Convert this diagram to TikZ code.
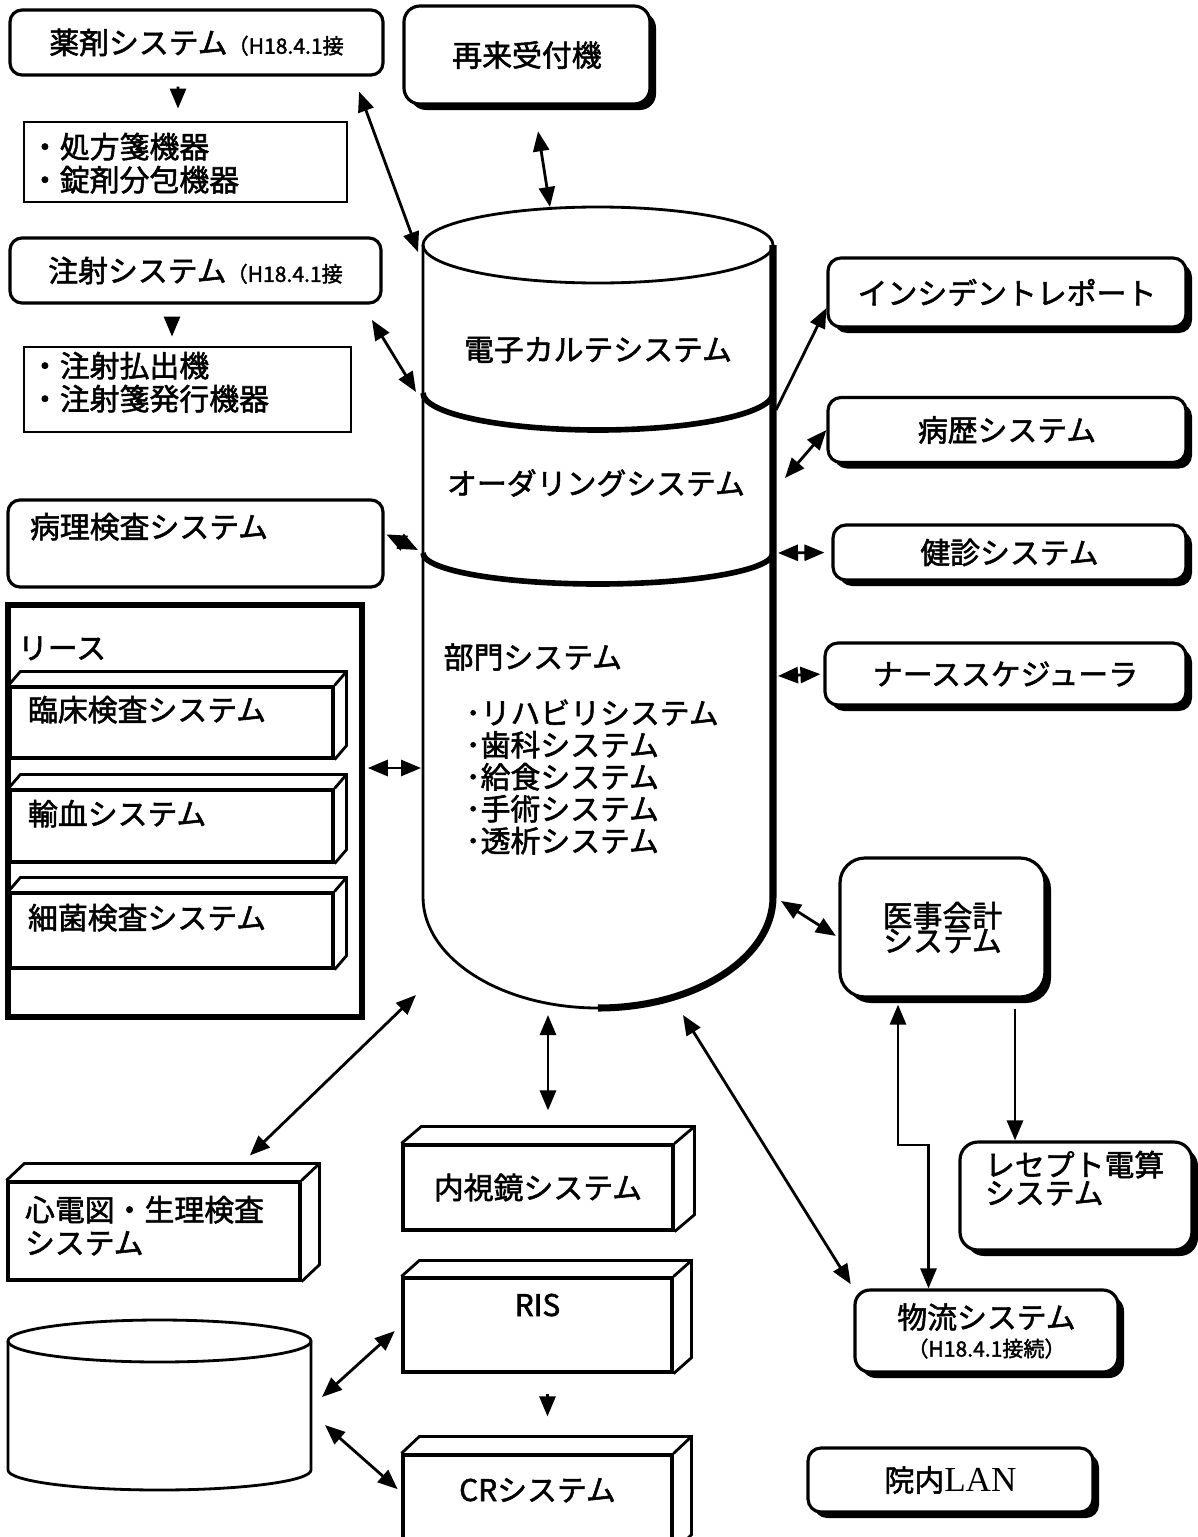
\documentclass[tikz,border=0pt]{standalone}
\usepackage{fontspec}
\setmainfont{Noto Sans CJK JP}[FakeBold=1.8]
\newfontfamily\lanfont{Liberation Serif}
\usepackage{tikz}
\usetikzlibrary{arrows.meta,positioning,shadows}

\newcommand\hsmall{\fontsize{6}{7}\selectfont}
\newcommand\tightlines{\fontsize{8.5}{7.1}\selectfont\lineskiplimit=-10pt\relax}
\newcommand\sidefaces[3]{%
  \draw[thick] (#1.north west) -- ++(#2,-#3) -- ([shift={(#2,-#3)}]#1.north east)
    -- ([shift={(#2,-#3)}]#1.south east) -- (#1.south east)
    (#1.north east) -- ++(#2,-#3);}

\begin{document}
\begin{tikzpicture}[x=0.1mm,y=-0.1mm,
    font=\fontsize{8.5}{9.4}\selectfont,
    >={Triangle[length=2mm,width=1.6mm]},
    rbox/.style={draw,line width=0.9pt,rounded corners=1.2mm,fill=white,inner sep=0pt},
    sbox/.style={rbox,drop shadow={shadow xshift=0.6mm,shadow yshift=-0.6mm,fill=black,opacity=1}},
    lbox/.style={draw,line width=0.8pt,fill=white,inner ysep=0pt},
    cube/.style={draw,line width=0.9pt,fill=white,inner ysep=0pt},
    lt/.style={align=left,text width=#1}]
    \useasboundingbox (0,0) rectangle (1198,1537);

    % central cylinder
    \draw[thick,fill=white] (423,245) -- (423,897)
        arc[start angle=180,end angle=0,x radius=175,y radius=111] -- (773,245);
    \draw[thick] (598,245) ellipse[x radius=175,y radius=38];
    \draw[line width=1.6pt] (423,393) arc[start angle=180,end angle=0,x radius=175,y radius=37];
    \draw[line width=1.6pt] (423,553) arc[start angle=180,end angle=0,x radius=175,y radius=31];
    \draw[line width=2pt] (773,245) -- (773,897)
        arc[start angle=0,end angle=90,x radius=175,y radius=111];

    \node (K) at (598,350) {電子カルテシステム};
    \node (O) at (596,483) {オーダリングシステム};
    \node[anchor=west,inner sep=0pt] (B) at (443,657) {部門システム};
    \node[anchor=west,inner sep=0pt,align=left,font=\fontsize{8.5}{9.1}\selectfont] (B') at (465,777)
        {･リハビリシステム\\･歯科システム\\･給食システム\\･手術システム\\･透析システム};

    \coordinate (dS) at (550,207);
    \coordinate (dY) at (418,252);
    \coordinate (dC) at (416,392);
    \coordinate (dP) at (418,550);
    \coordinate (dL) at (421,768);
    \coordinate (dE) at (416,995);
    \coordinate (dV) at (548,1015);
    \coordinate (dF) at (683,1015);
    \coordinate (dM) at (781,901);
    \coordinate (dN) at (778,676);
    \coordinate (dK) at (778,553);
    \coordinate (dB) at (785,478);
    \coordinate (dI) at (776,410);

    % left column
    \node[rbox,minimum width=37.3mm,minimum height=6.5mm] (Y) at (196.5,42.5) {薬剤システム{\hsmall （H18.4.1接}};
    \node[lbox,lt=31.1mm,inner xsep=0.6mm,text height=3.6mm,text depth=4.4mm] (Y') at (185.5,162)
        {・処方箋機器\\・錠剤分包機器};
    \node[rbox,minimum width=37.1mm,minimum height=6.5mm] (C) at (195.5,270.5) {注射システム{\hsmall （H18.4.1接}};
    \node[lbox,lt=31.5mm,inner xsep=0.6mm,text height=3mm,text depth=5.5mm] (C') at (187.5,389.5)
        {・注射払出機\\・注射箋発行機器};
    \node[rbox,lt=33.1mm,inner xsep=2.2mm,text height=3.8mm,text depth=4.9mm] (P) at (195.5,543.5) {病理検査システム};

    \node[draw,line width=1.6pt,lt=33.4mm,inner xsep=1mm,inner ysep=0pt,text height=5.4mm,text depth=35.8mm] (L) at (185,811) {リース};
    \node[cube,lt=28.7mm,inner xsep=1.8mm,text height=3.4mm,text depth=3.7mm] (Rn) at (171.5,722.5) {臨床検査システム};
    \sidefaces{Rn}{12}{14}
    \node[cube,lt=28.7mm,inner xsep=1.8mm,text height=3.5mm,text depth=3.7mm] (Yk) at (171.5,826) {輸血システム};
    \sidefaces{Yk}{12}{14}
    \node[cube,lt=28.7mm,inner xsep=1.8mm,text height=3.6mm,text depth=3.9mm] (Sk) at (171.5,930.5) {細菌検査システム};
    \sidefaces{Sk}{12}{14}

    \node[cube,lt=25.8mm,inner xsep=1.7mm,text height=3.9mm,text depth=5.9mm] (E) at (154,1231) {心電図・生理検査\\システム};
    \sidefaces{E}{18}{17}

    % small cylinder
    \draw[thick,fill=white] (8,1341) -- (8,1470)
        arc[start angle=180,end angle=0,x radius=151.5,y radius=20] -- (311,1341);
    \draw[thick] (159.5,1341) ellipse[x radius=151.5,y radius=21];
    \coordinate (D1) at (322,1397);
    \coordinate (D2) at (325,1425);

    % middle column
    \node[sbox,rounded corners=1.6mm,minimum width=24.6mm,minimum height=9.8mm] (S) at (527,55) {再来受付機};
    \node[cube,minimum width=27mm,minimum height=8.5mm] (V) at (538,1187.5) {内視鏡システム};
    \sidefaces{V}{20}{17}
    \node[cube,text width=26.9mm,align=center,inner xsep=0pt,text height=3.8mm,text depth=5.6mm] (Ri) at (537.5,1325) {RIS};
    \sidefaces{Ri}{18}{16}
    \node[cube,text width=26.9mm,align=center,inner xsep=0pt,text height=4.6mm,text depth=4.9mm] (CR) at (537.5,1502.5) {CRシステム};
    \sidefaces{CR}{18}{17}

    % right column
    \node[sbox,rounded corners=1.3mm,minimum width=35.8mm,minimum height=6.9mm] (I) at (1007,292.5) {インシデントレポート};
    \node[sbox,rounded corners=1.3mm,minimum width=35.8mm,minimum height=6.5mm] (H) at (1007,430) {病歴システム};
    \node[sbox,rounded corners=1.3mm,minimum width=35.3mm,minimum height=5.5mm] (G) at (1009.5,552.5) {健診システム};
    \node[sbox,rounded corners=1.3mm,minimum width=36.1mm,minimum height=6.2mm] (N) at (1005.5,674) {ナーススケジューラ};
    \node[sbox,rounded corners=2.5mm,minimum width=20.5mm,minimum height=13.9mm,align=center,
        font=\tightlines] (M) at (942.5,927.5) {医事会計\\システム};
    \node[sbox,rounded corners=1.8mm,lt=18.2mm,inner xsep=2.5mm,text height=3.4mm,text depth=7.4mm,
        font=\fontsize{8.5}{8}\selectfont] (R) at (1076,1196) {レセプト電算\\システム};
    \node[sbox,rounded corners=1.5mm,minimum width=26.3mm,minimum height=8.2mm,align=center,
        font=\fontsize{8.5}{8}\selectfont] (F) at (986.5,1331) {物流システム\\{\hsmall （H18.4.1接続）}};
    \node[sbox,rounded corners=1.3mm,minimum width=28.5mm,minimum height=6.4mm] (A) at (950.5,1480)
        {院内{\lanfont\fontsize{10}{12}\selectfont LAN}};

    % connectors
    \draw[thick,->,shorten <=1mm,shorten >=1.2mm] ([xshift=-1.85mm]Y.south) -- ([xshift=-0.75mm]Y'.north);
    \draw[thick,->,shorten <=1.3mm,shorten >=0.9mm] ([xshift=-2.35mm]C.south) -- ([xshift=-1.55mm]C'.north);
    \draw[thick,<->,shorten <=1.6mm] ([xshift=-3.1mm]Y.south east) -- (dY);
    \draw[thick,<->,shorten <=1.8mm] ([xshift=-2mm]C.south east) -- (dC);
    \draw[thick,<->,shorten <=2.6mm] ([xshift=0.7mm]S.south) -- (dS);
    \draw[thick,<->,shorten <=0.2mm] ([yshift=1mm]P.east) -- (dP);
    \draw[thick,<->,shorten <=0.3mm] (L.east |- dL) -- (dL);

    \draw[thick,->] (dI) -- ([yshift=-1.55mm]I.west);
    \draw[thick,<->] (dB) -- (H.west);
    \draw[thick,<->,shorten >=0.7mm] (dK) -- (G.west);
    \draw[thick,<->,shorten >=0.3mm] (dN) -- (N.west);
    \draw[thick,<->,shorten >=0.3mm] (dM) -- ([yshift=-1mm]M.west);

    \coordinate (m1) at ([xshift=7.25mm]M.south);
    \coordinate (m2) at ([xshift=-4.45mm]M.south);
    \coordinate (f1) at ([xshift=-5.8mm]F.north);
    \coordinate (st) at (913,1145);
    \draw[thick,->,shorten <=1mm] (m1) -- (m1 |- R.north);
    \draw[thick,<->,shorten <=0.6mm] (m2) |- (st) -| (f1);
    \draw[thick,<->,shorten >=0.5mm] (dF) -- (F.north west);

    \draw[thick,<->,shorten >=3.3mm] (dV) -- (dV |- V.north);
    \draw[thick,<->,shorten >=3.6mm] (dE) -- ([xshift=7mm]E.north);
    \draw[thick,<->,shorten >=0.9mm] (D1) -- (Ri.west);
    \draw[thick,<->,shorten >=0.5mm] (D2) -- ([yshift=1mm]CR.west);
    \coordinate (r1) at ([xshift=1mm]Ri.south);
    \draw[thick,->,shorten <=2mm,shorten >=3.7mm] (r1) -- (r1 |- CR.north);
\end{tikzpicture}
\end{document}
